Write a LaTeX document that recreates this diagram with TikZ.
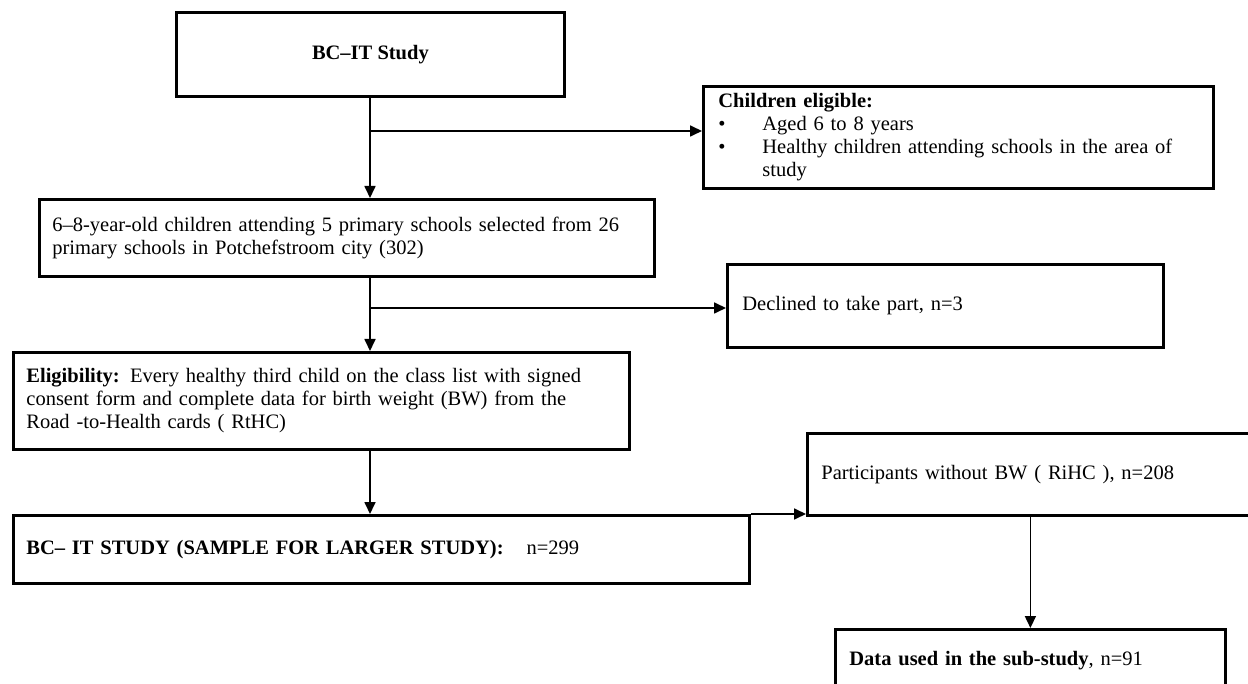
\documentclass[tikz,border=0pt]{standalone}
\usepackage{fontspec}
\setmainfont{Liberation Serif}
\usepackage{tikz}
\usetikzlibrary{shapes,arrows,arrows.meta,positioning,calc}

\begin{document}
\begin{tikzpicture}[x=1pt,y=-1pt,
    box/.style={draw,black,line width=2.8pt,rectangle,anchor=north west,align=left,inner xsep=13pt,inner ysep=4pt,font=\fontsize{20.5}{23}\selectfont},
    >={Triangle[length=12pt,width=11pt]}]
            \useasboundingbox (0,0) rectangle (1248,684);
            % boxes
            \node[box,align=center,minimum width=388pt,minimum height=84pt] (study) at (175,11) {\textbf{BC--IT Study}};
            \node[box,minimum width=506pt,minimum height=102pt,text width=480pt,inner xsep=15pt] (elig) at (702,85)
                {\textbf{Children eligible:}\\
                 \makebox[44pt][l]{\textbullet}Aged 6 to 8 years\\
                 \makebox[44pt][l]{\textbullet}Healthy children attending schools in the area of\\
                 \hspace*{44pt}study};
            \node[box,minimum width=615pt,minimum height=77pt,text width=589pt] (schools) at (38,198)
                {6--8-year-old children attending 5 primary schools selected from 26\\
                 primary schools in Potchefstroom city (302)};
            \node[box,minimum width=432pt,minimum height=83pt,text width=406pt,inner xsep=15pt] (declined) at (726,263)
                {Declined to take part, n=3};
            \node[box,minimum width=616pt,minimum height=97pt,text width=590pt] (criteria) at (12,351)
                {\textbf{Eligibility:} Every healthy third child on the class list with signed\\
                 consent form and complete data for birth weight (BW) from the\\
                 Road -to-Health cards ( RtHC)};
            \node[box,minimum width=736pt,minimum height=68pt,text width=710pt] (sample) at (12,514)
                {\textbf{BC-- IT STUDY (SAMPLE FOR LARGER STUDY):}\hspace{23pt}n=299};
            \node[box,minimum width=464pt,minimum height=82pt,text width=438pt,inner xsep=14pt] (nobw) at (806,432)
                {\raisebox{-5pt}{Participants without BW ( RiHC ), n=208}};
            \node[box,minimum width=390pt,minimum height=62pt,text width=362pt,inner xsep=14pt] (sub) at (834,628)
                {\textbf{Data used in the sub-study}, n=91};
            % connectors
            \coordinate (j1) at (370,131);
            \coordinate (j2) at (370,308);
            \draw[->,line width=1.7pt] (study.south -| j1) -- (schools.north -| j1);
            \draw[->,line width=1.7pt] (j1) -- (j1 -| elig.west);
            \draw[->,line width=1.7pt] (schools.south -| j2) -- (criteria.north -| j2);
            \draw[->,line width=1.7pt] (j2) -- (j2 -| declined.west);
            \draw[->,line width=1.7pt] (criteria.south -| j2) -- (sample.north -| j2);
            \draw[->,line width=1.7pt] (sample.north east) -- (sample.north east -| nobw.south west);
            \draw[->,line width=1.7pt] (sub.north |- nobw.south) -- (sub.north);
        \end{tikzpicture}
\end{document}
